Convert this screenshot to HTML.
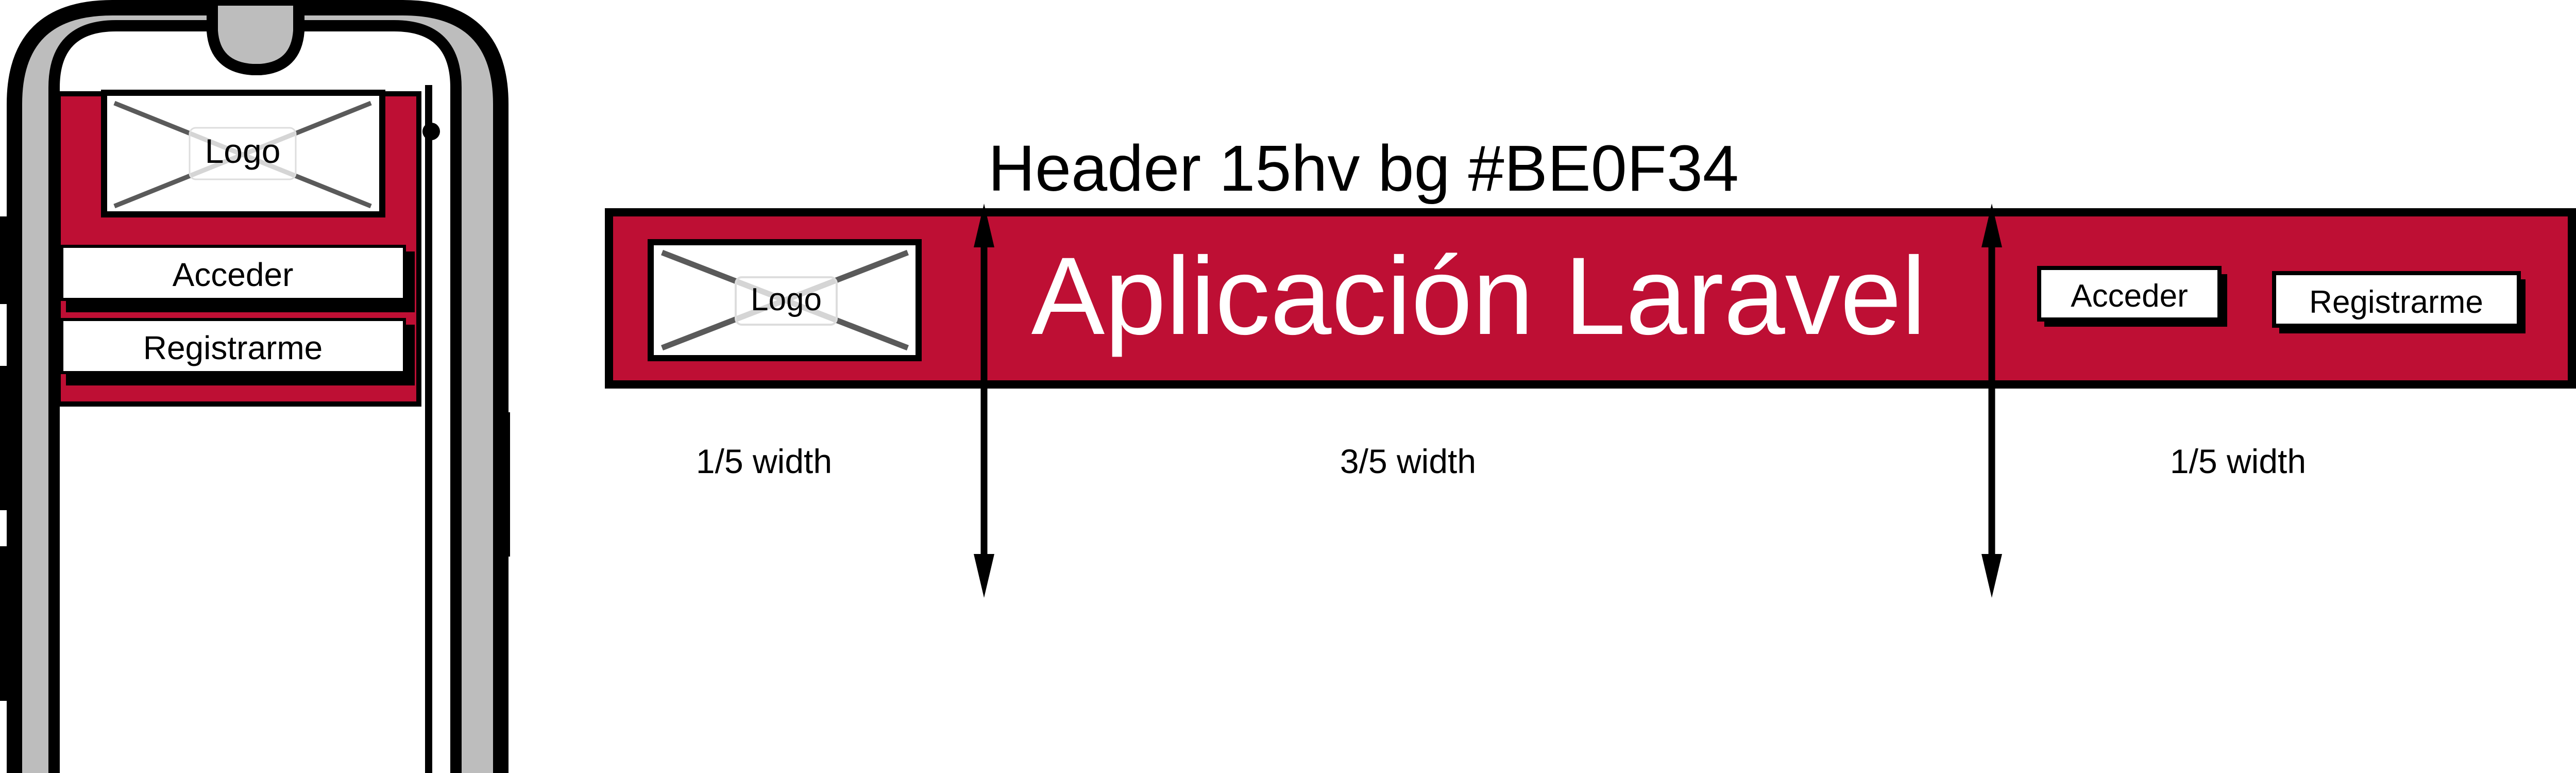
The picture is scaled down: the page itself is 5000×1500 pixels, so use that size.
<!DOCTYPE html>
<html><head><meta charset="utf-8"><style>
html,body{margin:0;padding:0;background:#fff;width:5000px;height:1500px;overflow:hidden}
svg{display:block}
text{font-family:"Liberation Sans",sans-serif}
</style></head><body>
<svg width="5000" height="1500" viewBox="0 0 5000 1500" xmlns="http://www.w3.org/2000/svg">
<rect x="0" y="420" width="18" height="170" fill="#000"/>
<rect x="0" y="710" width="18" height="280" fill="#000"/>
<rect x="0" y="1060" width="18" height="300" fill="#000"/>
<rect x="975" y="800" width="15" height="280" fill="#000"/>
<path d="M28 1500 L28 202 Q28 15 218 15 L782 15 Q972 15 972 202 L972 1500 Z" fill="#bdbdbd" stroke="none"/>
<path d="M28 1500 L28 202 Q28 15 218 15 L782 15 Q972 15 972 202 L972 1500" fill="none" stroke="#000" stroke-width="30"/>
<path d="M105 1500 L105 170 Q105 50 225 50 L765 50 Q885 50 885 170 L885 1500 Z" fill="#fff" stroke="none"/>
<path d="M105 1500 L105 170 Q105 50 225 50 L765 50 Q885 50 885 170 L885 1500" fill="none" stroke="#000" stroke-width="22"/>
<path d="M412 0 L412 60 Q417 130 490 135 L505 135 Q575 130 580 60 L580 0 Z" fill="#bdbdbd" stroke="#000" stroke-width="22"/>
<line x1="832" y1="165" x2="832" y2="1500" stroke="#000" stroke-width="14"/>
<circle cx="837" cy="255" r="17" fill="#000"/>
<rect x="113" y="182" width="700" height="602" fill="#be0f34" stroke="#000" stroke-width="10"/>
<rect x="202" y="180" width="540" height="236" fill="#fff" stroke="#000" stroke-width="12"/>
<line x1="222" y1="200" x2="720" y2="400" stroke="#5a5a5a" stroke-width="9"/>
<line x1="720" y1="200" x2="222" y2="400" stroke="#5a5a5a" stroke-width="9"/>
<rect x="368" y="248" width="206" height="100" rx="12" fill="#fff" fill-opacity="0.75" stroke="#ddd" stroke-width="3"/>
<text x="471" y="316" font-size="66" text-anchor="middle" fill="#000">Logo</text>
<rect x="128" y="488" width="677" height="118" fill="#000"/>
<rect x="120" y="478" width="665" height="103" fill="#fff" stroke="#000" stroke-width="6"/>
<text x="452" y="555" font-size="64" text-anchor="middle">Acceder</text>
<rect x="128" y="630" width="677" height="118" fill="#000"/>
<rect x="120" y="620" width="665" height="103" fill="#fff" stroke="#000" stroke-width="6"/>
<text x="452" y="697" font-size="64" text-anchor="middle">Registrarme</text>
<text x="1918" y="370" font-size="126">Header 15hv bg #BE0F34</text>
<rect x="1182" y="412" width="3810" height="334" fill="#be0f34" stroke="#000" stroke-width="16"/>
<rect x="1263" y="470" width="520" height="225" fill="#fff" stroke="#000" stroke-width="12"/>
<line x1="1285" y1="490" x2="1762" y2="675" stroke="#5a5a5a" stroke-width="11"/>
<line x1="1762" y1="490" x2="1285" y2="675" stroke="#5a5a5a" stroke-width="11"/>
<rect x="1428" y="538" width="196" height="92" rx="12" fill="#fff" fill-opacity="0.75" stroke="#ddd" stroke-width="4"/>
<text x="1526" y="602" font-size="62" text-anchor="middle">Logo</text>
<text x="2870" y="648" font-size="214" text-anchor="middle" fill="#fff">Aplicación Laravel</text>
<rect x="3968" y="532" width="355" height="102" fill="#000"/>
<rect x="3958" y="520" width="350" height="100" fill="#fff" stroke="#000" stroke-width="8"/>
<text x="4133" y="595" font-size="62" text-anchor="middle">Acceder</text>
<rect x="4424" y="542" width="478" height="105" fill="#000"/>
<rect x="4414" y="530" width="475" height="102" fill="#fff" stroke="#000" stroke-width="8"/>
<text x="4651" y="607" font-size="62" text-anchor="middle">Registrarme</text>
<line x1="1910" y1="440" x2="1910" y2="1110" stroke="#000" stroke-width="13"/>
<path d="M1910 395 L1930 480 L1890 480 Z" fill="#000"/>
<path d="M1910 1160 L1930 1075 L1890 1075 Z" fill="#000"/>
<line x1="3866" y1="440" x2="3866" y2="1110" stroke="#000" stroke-width="13"/>
<path d="M3866 395 L3886 480 L3846 480 Z" fill="#000"/>
<path d="M3866 1160 L3886 1075 L3846 1075 Z" fill="#000"/>
<text x="1483" y="918" font-size="66" text-anchor="middle">1/5 width</text>
<text x="2733" y="918" font-size="66" text-anchor="middle">3/5 width</text>
<text x="4344" y="918" font-size="66" text-anchor="middle">1/5 width</text>
</svg>
</body></html>
